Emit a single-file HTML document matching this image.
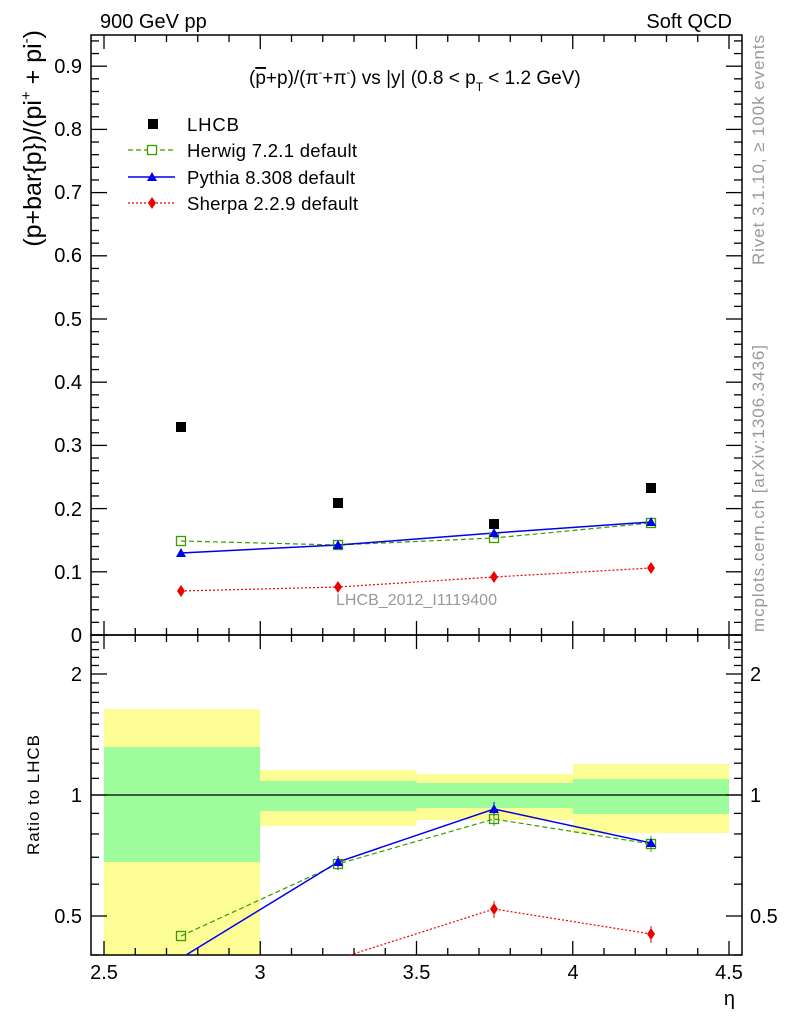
<!DOCTYPE html>
<html><head><meta charset="utf-8"><style>
body{margin:0;background:#fff}
svg{display:block;font-family:"Liberation Sans",Arial,sans-serif}
</style></head><body>
<svg id="s" width="786" height="1024" viewBox="0 0 786 1024" xmlns="http://www.w3.org/2000/svg">
<rect width="786" height="1024" fill="#fff"/>
<rect x="104" y="709" width="156" height="246" fill="#fdfd96"/>
<rect x="104" y="747" width="156" height="115" fill="#9dfd9a"/>
<rect x="260" y="770" width="156.5" height="56" fill="#fdfd96"/>
<rect x="260" y="781" width="156.5" height="30" fill="#9dfd9a"/>
<rect x="416.5" y="774" width="156.5" height="46" fill="#fdfd96"/>
<rect x="416.5" y="783" width="156.5" height="25" fill="#9dfd9a"/>
<rect x="573" y="764" width="156" height="69" fill="#fdfd96"/>
<rect x="573" y="779" width="156" height="35" fill="#9dfd9a"/>
<line x1="91" y1="795" x2="742" y2="795" stroke="#000" stroke-width="1.3"/>
<g id="ticks" stroke="#000" stroke-width="1.3"></g>
<rect x="91" y="35" width="651" height="600" fill="none" stroke="#000" stroke-width="1.5"/>
<rect x="91" y="635" width="651" height="320" fill="none" stroke="#000" stroke-width="1.5"/>
<polyline points="181,541 338,545 494,538 651,523" fill="none" stroke="#3a9a00" stroke-width="1.2" stroke-dasharray="5,3"/>
<polyline points="181,553 338,545 494,533 651,522" fill="none" stroke="#0000ee" stroke-width="1.5"/>
<polyline points="181,591 338,587 494,577 651,568" fill="none" stroke="#ee0000" stroke-width="1.2" stroke-dasharray="2,2"/>
<g fill="#000"><rect x="176" y="422" width="10" height="10"/><rect x="333" y="498" width="10" height="10"/><rect x="489" y="519" width="10" height="10"/><rect x="646" y="483" width="10" height="10"/></g>
<g fill="none" stroke="#3a9a00" stroke-width="1.3"><rect x="176.5" y="536.5" width="9" height="9"/><rect x="333.5" y="540.5" width="9" height="9"/><rect x="489.5" y="533.5" width="9" height="9"/><rect x="646.5" y="518.5" width="9" height="9"/></g>
<g fill="#0000ee"><polygon points="181,548 186,557 176,557"/><polygon points="338,540 343,549 333,549"/><polygon points="494,528 499,537 489,537"/><polygon points="651,517 656,526 646,526"/></g>
<g fill="#ee0000"><polygon points="181,585 185,591 181,597 177,591"/><polygon points="338,581 342,587 338,593 334,587"/><polygon points="494,571 498,577 494,583 490,577"/><polygon points="651,562 655,568 651,574 647,568"/></g>
<polyline points="181,936 338,864 494,819 651,844" fill="none" stroke="#3a9a00" stroke-width="1.2" stroke-dasharray="5,3"/>
<polyline points="186,955 338,862 494,809 651,843" fill="none" stroke="#0000ee" stroke-width="1.5"/>
<polyline points="350,955 494,909 651,934" fill="none" stroke="#ee0000" stroke-width="1.2" stroke-dasharray="2,2"/>
<g stroke="#3a9a00" stroke-width="1"><line x1="494" y1="812" x2="494" y2="826"/><line x1="651" y1="836" x2="651" y2="852"/></g>
<g stroke="#0000ee" stroke-width="1"><line x1="494" y1="802" x2="494" y2="816"/><line x1="338" y1="856" x2="338" y2="870"/></g>
<g stroke="#ee0000" stroke-width="1"><line x1="494" y1="901" x2="494" y2="918"/><line x1="651" y1="926" x2="651" y2="943"/></g>
<g fill="none" stroke="#3a9a00" stroke-width="1.3"><rect x="176.5" y="931.5" width="9" height="9"/><rect x="333.5" y="859.5" width="9" height="9"/><rect x="489.5" y="814.5" width="9" height="9"/><rect x="646.5" y="839.5" width="9" height="9"/></g>
<g fill="#0000ee"><polygon points="338,857 343,866 333,866"/><polygon points="494,804 499,813 489,813"/><polygon points="651,838 656,847 646,847"/></g>
<g fill="#ee0000"><polygon points="494,903 498,909 494,915 490,909"/><polygon points="651,928 655,934 651,940 647,934"/></g>
<rect x="148" y="119" width="10" height="10" fill="#000"/>
<line x1="128" y1="150" x2="175" y2="150" stroke="#3a9a00" stroke-width="1.2" stroke-dasharray="5,3"/>
<rect x="147.5" y="145.5" width="9" height="9" fill="#fff" stroke="#3a9a00" stroke-width="1.3"/>
<line x1="128" y1="177" x2="175" y2="177" stroke="#0000ee" stroke-width="1.5"/>
<polygon points="152,172 157,181 147,181" fill="#0000ee"/>
<line x1="128" y1="203" x2="175" y2="203" stroke="#ee0000" stroke-width="1.2" stroke-dasharray="2,2"/>
<polygon points="152,197 156,203 152,209 148,203" fill="#ee0000"/>
<g font-size="18.5" fill="#000">
<text x="187" y="131" textLength="52">LHCB</text>
<text x="187" y="157" textLength="170">Herwig 7.2.1 default</text>
<text x="187" y="184" textLength="168">Pythia 8.308 default</text>
<text x="187" y="210" textLength="171">Sherpa 2.2.9 default</text>
</g>
<text x="249" y="84" font-size="19">(<tspan text-decoration="overline">p</tspan>+p)/(π<tspan font-size="11" dy="-8">-</tspan><tspan dy="8">+π</tspan><tspan font-size="11" dy="-8">-</tspan><tspan dy="8">) vs |y| (0.8 &lt; p</tspan><tspan font-size="12" dy="7">T</tspan><tspan dy="-7"> &lt; 1.2 GeV)</tspan></text>
<text x="336" y="605" font-size="16" fill="#999" textLength="161">LHCB_2012_I1119400</text>
<text x="100" y="28" font-size="20">900 GeV pp</text>
<text x="732" y="28" font-size="20" text-anchor="end">Soft QCD</text>
<g font-size="20" text-anchor="end">
<text x="82" y="73">0.9</text><text x="82" y="136">0.8</text><text x="82" y="199">0.7</text><text x="82" y="262">0.6</text><text x="82" y="326">0.5</text><text x="82" y="389">0.4</text><text x="82" y="452">0.3</text><text x="82" y="516">0.2</text><text x="82" y="579">0.1</text><text x="82" y="642">0</text>
<text x="82" y="681">2</text><text x="82" y="802">1</text><text x="82" y="923">0.5</text>
</g>
<g font-size="20" text-anchor="start">
<text x="750" y="681">2</text><text x="750" y="802">1</text><text x="750" y="923">0.5</text>
</g>
<g font-size="20" text-anchor="middle">
<text x="104" y="979">2.5</text><text x="260" y="979">3</text><text x="416.5" y="979">3.5</text><text x="573" y="979">4</text><text x="729" y="979">4.5</text>
</g>
<text x="735" y="1005" font-size="20" text-anchor="end">η</text>
<text transform="translate(41,30) rotate(-90)" font-size="25" text-anchor="end">(p+bar{p})/(pi<tspan font-size="15" dy="-10">+</tspan><tspan dy="10"> + pi</tspan><tspan font-size="15" dy="-10">-</tspan><tspan dy="10">)</tspan></text>
<text transform="translate(39,855) rotate(-90)" font-size="17" textLength="120">Ratio to LHCB</text>
<text transform="translate(764,265) rotate(-90)" font-size="17" fill="#999" textLength="230">Rivet 3.1.10, ≥ 100k events</text>
<text transform="translate(764,632) rotate(-90)" font-size="17" fill="#999" textLength="287">mcplots.cern.ch [arXiv:1306.3436]</text>
</svg>
<script>
var g=document.getElementById('ticks'),s='';
function L(a,b,c,d){s+='<line x1="'+a+'" y1="'+b+'" x2="'+c+'" y2="'+d+'"/>';}
for(var i=0;i<=20;i++){var x=104+i*31.25,len=(i%5==0)?14:7;
 L(x,635,x,635-len);L(x,35,x,35+len);L(x,955,x,955-len);L(x,635,x,635+len);}
for(var i=0;i<=47;i++){var y=635-i*0.02*632,len=(i%5==0)?16:8;if(y<35)break;
 L(91,y,91+len,y);L(742,y,742-len,y);}
var rs=[0.4,0.5,0.6,0.7,0.8,0.9,1,1.1,1.2,1.3,1.4,1.5,1.6,1.7,1.8,1.9,2,2.1,2.2,2.3,2.4,2.5];
rs.forEach(function(r){var y=795-121*Math.log2(r),len=(r==0.5||r==1||r==2)?16:8;
 L(91,y,91+len,y);L(742,y,742-len,y);});
g.innerHTML=s;
</script>
</body></html>
